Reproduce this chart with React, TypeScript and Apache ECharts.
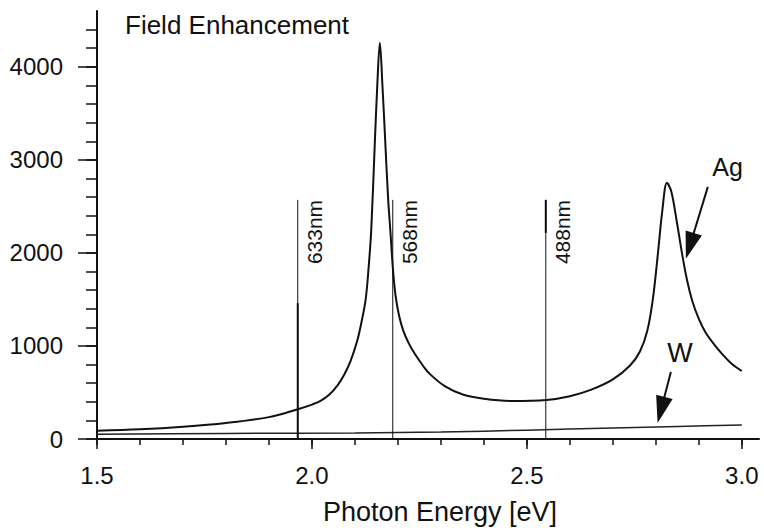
import React, { useEffect, useRef } from "react";
import * as echarts from "echarts";

// Ag field enhancement curve (photon energy [eV] -> enhancement)
const agEnergy = [1.5, 1.6, 1.7, 1.8, 1.9, 1.967, 2.0, 2.02, 2.04, 2.06, 2.075, 2.09, 2.105, 2.115, 2.125, 2.132, 2.138, 2.146, 2.152, 2.158, 2.164, 2.17, 2.177, 2.183, 2.188, 2.194, 2.202, 2.212, 2.225, 2.24, 2.258, 2.274, 2.31, 2.351, 2.4, 2.467, 2.546, 2.6, 2.65, 2.7, 2.74, 2.763, 2.78, 2.793, 2.805, 2.815, 2.826, 2.836, 2.849, 2.86, 2.872, 2.885, 2.9, 2.915, 2.935, 2.955, 2.975, 3.0];
const agField = [90, 105, 132, 172, 235, 320, 370, 410, 475, 580, 690, 840, 1050, 1250, 1500, 1850, 2250, 3150, 3800, 4258, 3800, 3250, 2600, 2200, 1850, 1560, 1340, 1170, 1030, 910, 790, 700, 565, 478, 433, 408, 420, 460, 530, 640, 790, 940, 1160, 1500, 2000, 2450, 2753, 2660, 2330, 2020, 1720, 1480, 1290, 1150, 1020, 910, 815, 731];

// W field enhancement curve
const wEnergy = [1.5, 1.8, 2.1, 2.3, 2.5, 2.7, 2.85, 3.0];
const wField = [50, 60, 65, 75, 95, 118, 135, 150];

// Laser lines
const laserEnergy = [1.967, 2.188, 2.544];
const laserLabel = ["633nm", "568nm", "488nm"];
const laserTop = 2570;
const laserBoldFrom = [0, null, 2215];
const laserBoldTo = [1460, null, 2570];

// Ticks
const xMajorTicks = [1.5, 2.0, 2.5, 3.0];
const xMinorTicks = [1.5, 1.6, 1.7, 1.8, 1.9, 2.0, 2.1, 2.2, 2.3, 2.4, 2.5, 2.6, 2.7, 2.8, 2.9, 3.0];
const yMajorTicks = [0, 1000, 2000, 3000, 4000];
const yMinorTicks = [0, 200, 400, 600, 800, 1000, 1200, 1400, 1600, 1800, 2000, 2200, 2400, 2600, 2800, 3000, 3200, 3400, 3600, 3800, 4000, 4200, 4400];

// Annotations (data coordinates)
const agArrowFrom = [2.921, 2710];
const agArrowTo = [2.879, 2075];
const wArrowFrom = [2.835, 720];
const wArrowTo = [2.812, 312];
const agLabelPos = [2.967, 2925];
const wLabelPos = [2.856, 925];

const FONT = "'Liberation Sans', Arial, Helvetica, sans-serif";
const INK = "#111";

export default function App() {
  const ref = useRef<HTMLDivElement>(null);

  useEffect(() => {
    if (!ref.current) return;
    const chart = echarts.init(ref.current, undefined, { renderer: "svg" });

    const laserSeries = laserEnergy.map((e, i) => ({
      type: "line",
      name: laserLabel[i],
      data: [
        [e, 0],
        [e, laserTop],
      ],
      showSymbol: false,
      silent: true,
      lineStyle: { color: INK, width: 1 },
    }));
    const boldSeries = laserEnergy
      .map((e, i) =>
        laserBoldFrom[i] === null
          ? null
          : {
              type: "line",
              data: [
                [e, laserBoldFrom[i]],
                [e, laserBoldTo[i]],
              ],
              showSymbol: false,
              silent: true,
              lineStyle: { color: INK, width: 2 },
            }
      )
      .filter(Boolean);

    const option: any = {
      animation: false,
      backgroundColor: "#fff",
      title: {
        text: "Field Enhancement",
        left: 120,
        top: 7,
        textStyle: { fontFamily: FONT, fontSize: 26, fontWeight: "normal", color: INK },
      },
      grid: { left: 97, right: 5, top: 11, bottom: 92 },
      xAxis: [
        {
          type: "value",
          min: 1.5,
          max: 3.04,
          axisLine: { show: true, lineStyle: { color: INK, width: 2 } },
          axisTick: { show: true, customValues: xMajorTicks, length: 10, lineStyle: { color: INK, width: 1.5 } },
          axisLabel: {
            customValues: xMajorTicks,
            formatter: (v: number) => v.toFixed(1),
            fontFamily: FONT,
            fontSize: 24,
            color: INK,
            margin: 24,
          },
          splitLine: { show: false },
          name: "Photon Energy [eV]",
          nameLocation: "middle",
          nameGap: 59,
          nameTextStyle: { fontFamily: FONT, fontSize: 27, color: INK, padding: [0, 0, 0, 24] },
        },
        {
          type: "value",
          min: 1.5,
          max: 3.04,
          position: "bottom",
          axisLine: { show: false },
          axisTick: { show: true, customValues: xMinorTicks, length: 6, lineStyle: { color: INK, width: 1.5 } },
          axisLabel: { show: false },
          splitLine: { show: false },
        },
      ],
      yAxis: [
        {
          type: "value",
          min: 0,
          max: 4600,
          axisLine: { show: true, lineStyle: { color: INK, width: 2 } },
          axisTick: { show: true, customValues: yMajorTicks, length: 19, lineStyle: { color: INK, width: 1.5 } },
          axisLabel: {
            customValues: yMajorTicks,
            formatter: (v: number) => String(v),
            fontFamily: FONT,
            fontSize: 24,
            color: INK,
            margin: 34,
          },
          splitLine: { show: false },
        },
        {
          type: "value",
          min: 0,
          max: 4600,
          position: "left",
          axisLine: { show: false },
          axisTick: { show: true, customValues: yMinorTicks, length: 11, lineStyle: { color: INK, width: 1.5 } },
          axisLabel: { show: false },
          splitLine: { show: false },
        },
      ],
      series: [
        {
          type: "line",
          name: "Ag",
          data: agEnergy.map((e, i) => [e, agField[i]]),
          showSymbol: false,
          smooth: 0.35,
          lineStyle: { color: INK, width: 2 },
        },
        {
          type: "line",
          name: "W",
          data: wEnergy.map((e, i) => [e, wField[i]]),
          showSymbol: false,
          smooth: 0.3,
          lineStyle: { color: "#222", width: 1.5 },
          markLine: {
            silent: true,
            symbol: ["none", "triangle"],
            symbolSize: [17, 27],
            label: { show: false },
            lineStyle: { color: INK, width: 2, type: "solid" },
            data: [
              [{ coord: agArrowFrom }, { coord: agArrowTo }],
              [{ coord: wArrowFrom }, { coord: wArrowTo }],
            ],
          },
        },
        ...laserSeries,
        ...boldSeries,
      ],
    };

    chart.setOption(option);

    const px = (p: number[]) => chart.convertToPixel({ gridIndex: 0 }, p) as number[];
    const graphics: any[] = [];
    laserEnergy.forEach((e, i) => {
      const p = px([e, laserTop]);
      graphics.push({
        type: "text",
        x: p[0] + 6,
        y: p[1],
        rotation: Math.PI / 2,
        silent: true,
        style: {
          text: laserLabel[i],
          fontFamily: FONT,
          fontSize: 21,
          fill: INK,
          align: "right",
          verticalAlign: "top",
        },
      });
    });
    const agP = px(agLabelPos);
    graphics.push({
      type: "text",
      x: agP[0],
      y: agP[1],
      silent: true,
      style: { text: "Ag", fontFamily: FONT, fontSize: 25, fill: INK, align: "center", verticalAlign: "middle" },
    });
    const wP = px(wLabelPos);
    graphics.push({
      type: "text",
      x: wP[0],
      y: wP[1],
      silent: true,
      style: { text: "W", fontFamily: FONT, fontSize: 27, fill: INK, align: "center", verticalAlign: "middle" },
    });
    chart.setOption({ graphic: graphics });

    return () => chart.dispose();
  }, []);

  return (
    <div
      ref={ref}
      style={{ position: "absolute", left: 0, top: 0, width: 764, height: 531, background: "#fff" }}
    />
  );
}
